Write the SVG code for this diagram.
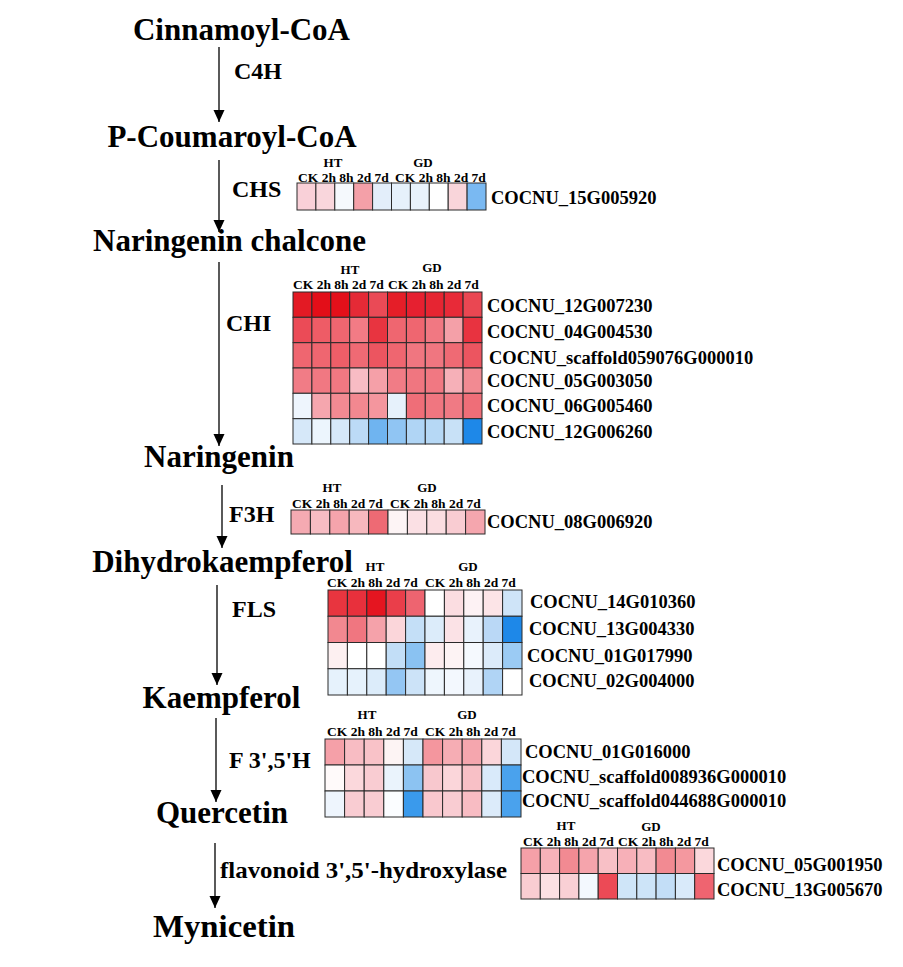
<svg xmlns="http://www.w3.org/2000/svg" width="903" height="967" viewBox="0 0 903 967">
<style>
text{font-family:"Liberation Serif","Times New Roman",serif;font-weight:bold;fill:#000}
.met{font-size:31px;text-anchor:middle}
.enz{font-size:24px}
.gene{font-size:18.5px}
.hdr{font-size:13.5px}
.grp{font-size:13px;text-anchor:middle}
.hm rect{stroke:#2a2a2a;stroke-width:1}
.arrow{stroke:#000;stroke-width:1.3;fill:none;marker-end:url(#ah)}
</style>
<defs>
<marker id="ah" markerUnits="userSpaceOnUse" markerWidth="13" markerHeight="12" refX="12" refY="5.5" orient="auto">
<path d="M0,0 L12,5.5 L0,11 Z" fill="#000"/>
</marker>
</defs>
<rect width="903" height="967" fill="#fff"/>

<g id="connectors">
<line class="arrow" x1="219" y1="47" x2="219" y2="122"/>
<line class="arrow" x1="219" y1="160" x2="219" y2="232"/>
<line class="arrow" x1="219" y1="262" x2="219" y2="446"/>
<line class="arrow" x1="222" y1="485" x2="222" y2="548"/>
<line class="arrow" x1="217" y1="585" x2="217" y2="685"/>
<line class="arrow" x1="216" y1="718" x2="216" y2="802"/>
<line class="arrow" x1="215" y1="843" x2="215" y2="908"/>
</g>

<g id="metabolites">
<g id="cinnamoyl-coa"><text class="met" x="241.5" y="40">Cinnamoyl-CoA</text></g>
<g id="p-coumaroyl-coa"><text class="met" x="232" y="147">P-Coumaroyl-CoA</text></g>
<g id="naringenin-chalcone"><text class="met" x="229.5" y="251">Naringenin chalcone</text></g>
<g id="naringenin"><text class="met" x="219" y="467">Naringenin</text></g>
<g id="dihydrokaempferol"><text class="met" x="222.5" y="572">Dihydrokaempferol</text></g>
<g id="kaempferol"><text class="met" x="221.5" y="708">Kaempferol</text></g>
<g id="quercetin"><text class="met" x="222" y="823">Quercetin</text></g>
<g id="mynicetin"><text class="met" x="224" y="937" textLength="142" lengthAdjust="spacingAndGlyphs">Mynicetin</text></g>
</g>

<g id="enzymes">
<g id="c4h"><text class="enz" x="234" y="79">C4H</text></g>
<g id="chs"><text class="enz" x="232" y="197">CHS</text></g>
<g id="chi"><text class="enz" x="226" y="331">CHI</text></g>
<g id="f3h"><text class="enz" x="229" y="522">F3H</text></g>
<g id="fls"><text class="enz" x="232" y="617">FLS</text></g>
<g id="f35h"><text class="enz" x="229" y="768">F 3',5'H</text></g>
<g id="f35h-full"><text class="enz" x="220" y="878" textLength="287" lengthAdjust="spacingAndGlyphs">flavonoid 3',5'-hydroxylase</text></g>
</g>

<g id="heatmap-chs" class="hm">
<text class="grp" x="333" y="167">HT</text><text class="grp" x="423" y="167">GD</text>
<text class="hdr" x="298" y="182">CK 2h 8h 2d 7d</text><text class="hdr" x="395" y="182">CK 2h 8h 2d 7d</text>
<rect x="297" y="183" width="18.9" height="27" fill="#f9d0d8"/>
<rect x="315.9" y="183" width="18.9" height="27" fill="#f9d6dc"/>
<rect x="334.8" y="183" width="18.9" height="27" fill="#f5f9fd"/>
<rect x="353.7" y="183" width="18.9" height="27" fill="#f4a0a8"/>
<rect x="372.6" y="183" width="18.9" height="27" fill="#e3eefa"/>
<rect x="391.5" y="183" width="18.9" height="27" fill="#e6f1fb"/>
<rect x="410.4" y="183" width="18.9" height="27" fill="#e8f2fb"/>
<rect x="429.3" y="183" width="18.9" height="27" fill="#ffffff"/>
<rect x="448.2" y="183" width="18.9" height="27" fill="#f9d5da"/>
<rect x="467.1" y="183" width="18.9" height="27" fill="#7ab9f2"/>
<text class="gene" x="491" y="204">COCNU_15G005920</text>
</g>

<g id="heatmap-chi" class="hm">
<text class="grp" x="350" y="274">HT</text><text class="grp" x="432" y="272">GD</text>
<text class="hdr" x="293" y="289">CK 2h 8h 2d 7d</text><text class="hdr" x="388" y="289">CK 2h 8h 2d 7d</text>
<rect x="293" y="292" width="18.9" height="25.3" fill="#e31a24"/>
<rect x="311.9" y="292" width="18.9" height="25.3" fill="#e30e18"/>
<rect x="330.8" y="292" width="18.9" height="25.3" fill="#e3101a"/>
<rect x="349.7" y="292" width="18.9" height="25.3" fill="#e52a36"/>
<rect x="368.6" y="292" width="18.9" height="25.3" fill="#ea4a56"/>
<rect x="387.5" y="292" width="18.9" height="25.3" fill="#e51e28"/>
<rect x="406.4" y="292" width="18.9" height="25.3" fill="#e62030"/>
<rect x="425.3" y="292" width="18.9" height="25.3" fill="#e62532"/>
<rect x="444.2" y="292" width="18.9" height="25.3" fill="#e82a38"/>
<rect x="463.1" y="292" width="18.9" height="25.3" fill="#ea4752"/>
<rect x="293" y="317.3" width="18.9" height="25.3" fill="#eb4b57"/>
<rect x="311.9" y="317.3" width="18.9" height="25.3" fill="#ee5c66"/>
<rect x="330.8" y="317.3" width="18.9" height="25.3" fill="#ef6670"/>
<rect x="349.7" y="317.3" width="18.9" height="25.3" fill="#f27b85"/>
<rect x="368.6" y="317.3" width="18.9" height="25.3" fill="#e83440"/>
<rect x="387.5" y="317.3" width="18.9" height="25.3" fill="#ef6670"/>
<rect x="406.4" y="317.3" width="18.9" height="25.3" fill="#ef6670"/>
<rect x="425.3" y="317.3" width="18.9" height="25.3" fill="#f17882"/>
<rect x="444.2" y="317.3" width="18.9" height="25.3" fill="#f4a0a8"/>
<rect x="463.1" y="317.3" width="18.9" height="25.3" fill="#e83340"/>
<rect x="293" y="342.7" width="18.9" height="25.3" fill="#ef6670"/>
<rect x="311.9" y="342.7" width="18.9" height="25.3" fill="#ef6670"/>
<rect x="330.8" y="342.7" width="18.9" height="25.3" fill="#ee5e68"/>
<rect x="349.7" y="342.7" width="18.9" height="25.3" fill="#ef6a74"/>
<rect x="368.6" y="342.7" width="18.9" height="25.3" fill="#ec5560"/>
<rect x="387.5" y="342.7" width="18.9" height="25.3" fill="#ef6670"/>
<rect x="406.4" y="342.7" width="18.9" height="25.3" fill="#f07680"/>
<rect x="425.3" y="342.7" width="18.9" height="25.3" fill="#f07680"/>
<rect x="444.2" y="342.7" width="18.9" height="25.3" fill="#ef6a74"/>
<rect x="463.1" y="342.7" width="18.9" height="25.3" fill="#ec5560"/>
<rect x="293" y="368" width="18.9" height="25.3" fill="#f17c86"/>
<rect x="311.9" y="368" width="18.9" height="25.3" fill="#f17882"/>
<rect x="330.8" y="368" width="18.9" height="25.3" fill="#f17882"/>
<rect x="349.7" y="368" width="18.9" height="25.3" fill="#f8bcc4"/>
<rect x="368.6" y="368" width="18.9" height="25.3" fill="#f5a0a8"/>
<rect x="387.5" y="368" width="18.9" height="25.3" fill="#f17c86"/>
<rect x="406.4" y="368" width="18.9" height="25.3" fill="#f07680"/>
<rect x="425.3" y="368" width="18.9" height="25.3" fill="#f17882"/>
<rect x="444.2" y="368" width="18.9" height="25.3" fill="#f6b0b8"/>
<rect x="463.1" y="368" width="18.9" height="25.3" fill="#f28a92"/>
<rect x="293" y="393.3" width="18.9" height="25.3" fill="#eef5fd"/>
<rect x="311.9" y="393.3" width="18.9" height="25.3" fill="#f5a6ae"/>
<rect x="330.8" y="393.3" width="18.9" height="25.3" fill="#f28a92"/>
<rect x="349.7" y="393.3" width="18.9" height="25.3" fill="#f28890"/>
<rect x="368.6" y="393.3" width="18.9" height="25.3" fill="#f4969e"/>
<rect x="387.5" y="393.3" width="18.9" height="25.3" fill="#e6f1fb"/>
<rect x="406.4" y="393.3" width="18.9" height="25.3" fill="#ef6e78"/>
<rect x="425.3" y="393.3" width="18.9" height="25.3" fill="#f07680"/>
<rect x="444.2" y="393.3" width="18.9" height="25.3" fill="#f07a84"/>
<rect x="463.1" y="393.3" width="18.9" height="25.3" fill="#ef6e78"/>
<rect x="293" y="418.7" width="18.9" height="25.3" fill="#d6e8f9"/>
<rect x="311.9" y="418.7" width="18.9" height="25.3" fill="#ecf5fd"/>
<rect x="330.8" y="418.7" width="18.9" height="25.3" fill="#d6e8f9"/>
<rect x="349.7" y="418.7" width="18.9" height="25.3" fill="#bcdaf6"/>
<rect x="368.6" y="418.7" width="18.9" height="25.3" fill="#6fb4f0"/>
<rect x="387.5" y="418.7" width="18.9" height="25.3" fill="#90c5f3"/>
<rect x="406.4" y="418.7" width="18.9" height="25.3" fill="#b0d5f5"/>
<rect x="425.3" y="418.7" width="18.9" height="25.3" fill="#b6d8f5"/>
<rect x="444.2" y="418.7" width="18.9" height="25.3" fill="#c8e1f7"/>
<rect x="463.1" y="418.7" width="18.9" height="25.3" fill="#1e88e8"/>
<text class="gene" x="487" y="312">COCNU_12G007230</text>
<text class="gene" x="487" y="338">COCNU_04G004530</text>
<text class="gene" x="489" y="364">COCNU_scaffold059076G000010</text>
<text class="gene" x="487" y="387">COCNU_05G003050</text>
<text class="gene" x="487" y="412">COCNU_06G005460</text>
<text class="gene" x="487" y="438">COCNU_12G006260</text>
</g>

<g id="heatmap-f3h" class="hm">
<text class="grp" x="332" y="492">HT</text><text class="grp" x="427" y="492">GD</text>
<text class="hdr" x="292" y="508">CK 2h 8h 2d 7d</text><text class="hdr" x="390" y="508">CK 2h 8h 2d 7d</text>
<rect x="291" y="510" width="19.4" height="24" fill="#f5aab2"/>
<rect x="310.4" y="510" width="19.4" height="24" fill="#f7bcc3"/>
<rect x="329.8" y="510" width="19.4" height="24" fill="#f5a4ac"/>
<rect x="349.2" y="510" width="19.4" height="24" fill="#f7b8be"/>
<rect x="368.6" y="510" width="19.4" height="24" fill="#ee6a74"/>
<rect x="388" y="510" width="19.4" height="24" fill="#fdf4f5"/>
<rect x="407.4" y="510" width="19.4" height="24" fill="#fbe0e4"/>
<rect x="426.8" y="510" width="19.4" height="24" fill="#fbdde1"/>
<rect x="446.2" y="510" width="19.4" height="24" fill="#f9ccd2"/>
<rect x="465.6" y="510" width="19.4" height="24" fill="#f5a6ae"/>
<text class="gene" x="487" y="528">COCNU_08G006920</text>
</g>

<g id="heatmap-fls" class="hm">
<text class="grp" x="375" y="571">HT</text><text class="grp" x="468" y="571">GD</text>
<text class="hdr" x="327" y="587">CK 2h 8h 2d 7d</text><text class="hdr" x="425" y="587">CK 2h 8h 2d 7d</text>
<rect x="328" y="590" width="19.4" height="26.25" fill="#e8353f"/>
<rect x="347.4" y="590" width="19.4" height="26.25" fill="#e8303c"/>
<rect x="366.8" y="590" width="19.4" height="26.25" fill="#e51520"/>
<rect x="386.2" y="590" width="19.4" height="26.25" fill="#ea3e4a"/>
<rect x="405.6" y="590" width="19.4" height="26.25" fill="#ee6470"/>
<rect x="425" y="590" width="19.4" height="26.25" fill="#ffffff"/>
<rect x="444.4" y="590" width="19.4" height="26.25" fill="#fbdde1"/>
<rect x="463.8" y="590" width="19.4" height="26.25" fill="#fdf2f4"/>
<rect x="483.2" y="590" width="19.4" height="26.25" fill="#fce4e7"/>
<rect x="502.6" y="590" width="19.4" height="26.25" fill="#cfe4f8"/>
<rect x="328" y="616.25" width="19.4" height="26.25" fill="#f28890"/>
<rect x="347.4" y="616.25" width="19.4" height="26.25" fill="#f07680"/>
<rect x="366.8" y="616.25" width="19.4" height="26.25" fill="#f5a2aa"/>
<rect x="386.2" y="616.25" width="19.4" height="26.25" fill="#fbd6da"/>
<rect x="405.6" y="616.25" width="19.4" height="26.25" fill="#c4dff7"/>
<rect x="425" y="616.25" width="19.4" height="26.25" fill="#dcecfa"/>
<rect x="444.4" y="616.25" width="19.4" height="26.25" fill="#fbe2e6"/>
<rect x="463.8" y="616.25" width="19.4" height="26.25" fill="#e8f2fc"/>
<rect x="483.2" y="616.25" width="19.4" height="26.25" fill="#bad8f6"/>
<rect x="502.6" y="616.25" width="19.4" height="26.25" fill="#1e88e8"/>
<rect x="328" y="642.5" width="19.4" height="26.25" fill="#fdf0f1"/>
<rect x="347.4" y="642.5" width="19.4" height="26.25" fill="#ffffff"/>
<rect x="366.8" y="642.5" width="19.4" height="26.25" fill="#ffffff"/>
<rect x="386.2" y="642.5" width="19.4" height="26.25" fill="#c2def7"/>
<rect x="405.6" y="642.5" width="19.4" height="26.25" fill="#8ac2f2"/>
<rect x="425" y="642.5" width="19.4" height="26.25" fill="#fdecee"/>
<rect x="444.4" y="642.5" width="19.4" height="26.25" fill="#fdf3f4"/>
<rect x="463.8" y="642.5" width="19.4" height="26.25" fill="#f5f9fe"/>
<rect x="483.2" y="642.5" width="19.4" height="26.25" fill="#dcebfa"/>
<rect x="502.6" y="642.5" width="19.4" height="26.25" fill="#9bcbf4"/>
<rect x="328" y="668.75" width="19.4" height="26.25" fill="#e6f2fc"/>
<rect x="347.4" y="668.75" width="19.4" height="26.25" fill="#e6f2fc"/>
<rect x="366.8" y="668.75" width="19.4" height="26.25" fill="#dcecfa"/>
<rect x="386.2" y="668.75" width="19.4" height="26.25" fill="#94c6f3"/>
<rect x="405.6" y="668.75" width="19.4" height="26.25" fill="#cce3f8"/>
<rect x="425" y="668.75" width="19.4" height="26.25" fill="#eef6fd"/>
<rect x="444.4" y="668.75" width="19.4" height="26.25" fill="#f3f8fe"/>
<rect x="463.8" y="668.75" width="19.4" height="26.25" fill="#e8f2fc"/>
<rect x="483.2" y="668.75" width="19.4" height="26.25" fill="#b0d4f5"/>
<rect x="502.6" y="668.75" width="19.4" height="26.25" fill="#ffffff"/>
<text class="gene" x="530" y="608">COCNU_14G010360</text>
<text class="gene" x="529" y="635">COCNU_13G004330</text>
<text class="gene" x="527" y="662">COCNU_01G017990</text>
<text class="gene" x="529" y="687">COCNU_02G004000</text>
</g>

<g id="heatmap-f35h" class="hm">
<text class="grp" x="367" y="719">HT</text><text class="grp" x="467" y="719">GD</text>
<text class="hdr" x="327" y="736">CK 2h 8h 2d 7d</text><text class="hdr" x="425" y="736">CK 2h 8h 2d 7d</text>
<rect x="325" y="739" width="19.6" height="26" fill="#f5a0a8"/>
<rect x="344.6" y="739" width="19.6" height="26" fill="#f8bcc3"/>
<rect x="364.2" y="739" width="19.6" height="26" fill="#f9c2c8"/>
<rect x="383.8" y="739" width="19.6" height="26" fill="#fdf4f4"/>
<rect x="403.4" y="739" width="19.6" height="26" fill="#d6e8f9"/>
<rect x="423" y="739" width="19.6" height="26" fill="#f4969e"/>
<rect x="442.6" y="739" width="19.6" height="26" fill="#f6adb4"/>
<rect x="462.2" y="739" width="19.6" height="26" fill="#f5a6ae"/>
<rect x="481.8" y="739" width="19.6" height="26" fill="#fbd6da"/>
<rect x="501.4" y="739" width="19.6" height="26" fill="#d4e7f9"/>
<rect x="325" y="765" width="19.6" height="26" fill="#fffafa"/>
<rect x="344.6" y="765" width="19.6" height="26" fill="#fbd8dc"/>
<rect x="364.2" y="765" width="19.6" height="26" fill="#f9ccd2"/>
<rect x="383.8" y="765" width="19.6" height="26" fill="#eaf3fc"/>
<rect x="403.4" y="765" width="19.6" height="26" fill="#8cc3f2"/>
<rect x="423" y="765" width="19.6" height="26" fill="#f8c8ce"/>
<rect x="442.6" y="765" width="19.6" height="26" fill="#fbd6da"/>
<rect x="462.2" y="765" width="19.6" height="26" fill="#f8c0c6"/>
<rect x="481.8" y="765" width="19.6" height="26" fill="#d9eafa"/>
<rect x="501.4" y="765" width="19.6" height="26" fill="#4aa2ed"/>
<rect x="325" y="791" width="19.6" height="26" fill="#eef5fd"/>
<rect x="344.6" y="791" width="19.6" height="26" fill="#f9ccd2"/>
<rect x="364.2" y="791" width="19.6" height="26" fill="#f9ccd2"/>
<rect x="383.8" y="791" width="19.6" height="26" fill="#fbfdff"/>
<rect x="403.4" y="791" width="19.6" height="26" fill="#3a9aec"/>
<rect x="423" y="791" width="19.6" height="26" fill="#f9c8ce"/>
<rect x="442.6" y="791" width="19.6" height="26" fill="#f9ccd2"/>
<rect x="462.2" y="791" width="19.6" height="26" fill="#f8bcc3"/>
<rect x="481.8" y="791" width="19.6" height="26" fill="#dcebfa"/>
<rect x="501.4" y="791" width="19.6" height="26" fill="#4aa2ed"/>
<text class="gene" x="525" y="758">COCNU_01G016000</text>
<text class="gene" x="522" y="783">COCNU_scaffold008936G000010</text>
<text class="gene" x="522" y="807">COCNU_scaffold044688G000010</text>
</g>

<g id="heatmap-f35h-full" class="hm">
<text class="grp" x="566" y="830">HT</text><text class="grp" x="651" y="831">GD</text>
<text class="hdr" x="523" y="846">CK 2h 8h 2d 7d</text><text class="hdr" x="618" y="846">CK 2h 8h 2d 7d</text>
<rect x="521" y="848" width="19.3" height="25.5" fill="#f5a0a8"/>
<rect x="540.3" y="848" width="19.3" height="25.5" fill="#f7b2b9"/>
<rect x="559.6" y="848" width="19.3" height="25.5" fill="#f28a92"/>
<rect x="578.9" y="848" width="19.3" height="25.5" fill="#f5a4ac"/>
<rect x="598.2" y="848" width="19.3" height="25.5" fill="#f8c0c6"/>
<rect x="617.5" y="848" width="19.3" height="25.5" fill="#f7b0b8"/>
<rect x="636.8" y="848" width="19.3" height="25.5" fill="#f8bcc3"/>
<rect x="656.1" y="848" width="19.3" height="25.5" fill="#f28a92"/>
<rect x="675.4" y="848" width="19.3" height="25.5" fill="#f4989f"/>
<rect x="694.7" y="848" width="19.3" height="25.5" fill="#fbd8dc"/>
<rect x="521" y="873.5" width="19.3" height="25.5" fill="#f9cdd2"/>
<rect x="540.3" y="873.5" width="19.3" height="25.5" fill="#fbe0e3"/>
<rect x="559.6" y="873.5" width="19.3" height="25.5" fill="#f9d0d5"/>
<rect x="578.9" y="873.5" width="19.3" height="25.5" fill="#f3f8fe"/>
<rect x="598.2" y="873.5" width="19.3" height="25.5" fill="#ec4a56"/>
<rect x="617.5" y="873.5" width="19.3" height="25.5" fill="#cfe5f8"/>
<rect x="636.8" y="873.5" width="19.3" height="25.5" fill="#cde4f8"/>
<rect x="656.1" y="873.5" width="19.3" height="25.5" fill="#c3def7"/>
<rect x="675.4" y="873.5" width="19.3" height="25.5" fill="#d9eafa"/>
<rect x="694.7" y="873.5" width="19.3" height="25.5" fill="#ef6470"/>
<text class="gene" x="717" y="871">COCNU_05G001950</text>
<text class="gene" x="717" y="896">COCNU_13G005670</text>
</g>
</svg>
